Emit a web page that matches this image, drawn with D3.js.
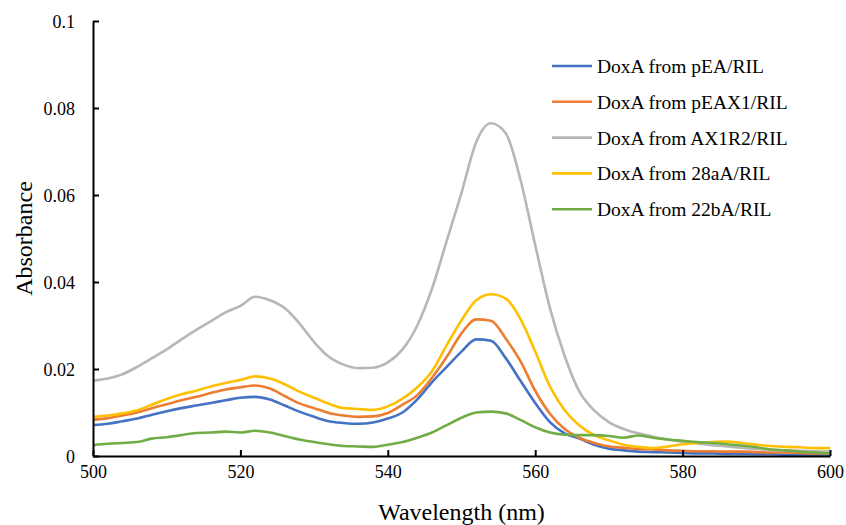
<!DOCTYPE html>
<html>
<head>
<meta charset="utf-8">
<script src="https://cdnjs.cloudflare.com/ajax/libs/d3/7.8.5/d3.min.js"></script>
<style>
    body { margin: 0; background: #fff; }
    svg { display: block; font-family: "Liberation Serif", "Times New Roman", serif; }
    .axis path, .axis line { stroke: #000; stroke-width: 2; }
    .axis text { font-size: 18px; fill: #000; font-family: "Liberation Serif", "Times New Roman", serif; }
</style>
</head>
<body>
<svg id="chart" width="846" height="525"></svg>
<script>

var wavelengths = d3.range(500, 601, 2);

var seriesNames = [
    "DoxA from pEA/RIL",
    "DoxA from pEAX1/RIL",
    "DoxA from AX1R2/RIL",
    "DoxA from 28aA/RIL",
    "DoxA from 22bA/RIL"
];

var pEA = [0.0071, 0.0074, 0.0080, 0.0086, 0.0095, 0.0103, 0.0110, 0.0116, 0.0122, 0.0128,
    0.0134, 0.0136, 0.0130, 0.0116, 0.0102, 0.0090, 0.0080, 0.0076, 0.0074, 0.0077,
    0.0086, 0.0100, 0.0130, 0.0170, 0.0205, 0.0240, 0.0268, 0.0265, 0.0225, 0.0173,
    0.0122, 0.0078, 0.0052, 0.0040, 0.0026, 0.0017, 0.0013, 0.0010, 0.0009, 0.0008,
    0.0007, 0.0006, 0.0006, 0.0005, 0.0005, 0.0004, 0.0004, 0.0003, 0.0003, 0.0002, 0.0002];

var pEAX1 = [0.0083, 0.0087, 0.0093, 0.0100, 0.0110, 0.0119, 0.0128, 0.0136, 0.0145, 0.0153,
    0.0158, 0.0162, 0.0155, 0.0138, 0.0121, 0.0110, 0.0099, 0.0093, 0.0090, 0.0091,
    0.0099, 0.0118, 0.0140, 0.0180, 0.0228, 0.0282, 0.0314, 0.0311, 0.0270, 0.0218,
    0.0150, 0.0097, 0.0062, 0.0042, 0.0030, 0.0022, 0.0019, 0.0016, 0.0015, 0.0013,
    0.0012, 0.0011, 0.0011, 0.0010, 0.0010, 0.0009, 0.0008, 0.0008, 0.0007, 0.0006, 0.0006];

var AX1R2 = [0.0173, 0.0178, 0.0188, 0.0205, 0.0225, 0.0245, 0.0268, 0.0290, 0.0310, 0.0330,
    0.0345, 0.0366, 0.0358, 0.0340, 0.0305, 0.0262, 0.0228, 0.0210, 0.0202, 0.0203,
    0.0215, 0.0245, 0.0300, 0.0385, 0.0495, 0.0605, 0.0722, 0.0765, 0.0742, 0.0635,
    0.0485, 0.0340, 0.0230, 0.0148, 0.0105, 0.0078, 0.0062, 0.0052, 0.0044, 0.0038,
    0.0033, 0.0029, 0.0025, 0.0022, 0.0019, 0.0016, 0.0014, 0.0013, 0.0012, 0.0011, 0.0010];

var aA28 = [0.0090, 0.0093, 0.0098, 0.0105, 0.0118, 0.0131, 0.0142, 0.0150, 0.0160, 0.0168,
    0.0175, 0.0183, 0.0178, 0.0165, 0.0148, 0.0134, 0.0120, 0.0110, 0.0108, 0.0106,
    0.0114, 0.0132, 0.0158, 0.0195, 0.0255, 0.0312, 0.0358, 0.0372, 0.0362, 0.0315,
    0.0240, 0.0160, 0.0105, 0.0070, 0.0048, 0.0036, 0.0026, 0.0021, 0.0018, 0.0022,
    0.0027, 0.0030, 0.0032, 0.0033, 0.0030, 0.0026, 0.0023, 0.0021, 0.0020, 0.0018, 0.0018];

var bA22 = [0.0025, 0.0028, 0.0030, 0.0032, 0.0040, 0.0043, 0.0048, 0.0053, 0.0054, 0.0056,
    0.0054, 0.0058, 0.0054, 0.0046, 0.0038, 0.0032, 0.0027, 0.0023, 0.0022, 0.0021,
    0.0026, 0.0032, 0.0042, 0.0054, 0.0071, 0.0088, 0.0100, 0.0102, 0.0098, 0.0083,
    0.0066, 0.0054, 0.0049, 0.0048, 0.0048, 0.0046, 0.0042, 0.0047, 0.0042, 0.0038,
    0.0035, 0.0032, 0.0030, 0.0027, 0.0024, 0.0020, 0.0015, 0.0013, 0.0010, 0.0008, 0.0006];

var seriesValues = [pEA, pEAX1, AX1R2, aA28, bA22];
var colors = ["#4472C4", "#ED7D31", "#B7B7B7", "#FFC000", "#70AD47"];

var xTicks = [500, 520, 540, 560, 580, 600];
var yTicks = [0, 0.02, 0.04, 0.06, 0.08, 0.1];

var svg = d3.select("#chart"),
    margin = {top: 21, right: 16, bottom: 69, left: 93},
    width = +svg.attr("width") - margin.left - margin.right,
    height = +svg.attr("height") - margin.top - margin.bottom;

var g = svg.append("g")
    .attr("transform", "translate(" + margin.left + "," + margin.top + ")");

var x = d3.scaleLinear().domain([500, 600]).range([0, width]);
var y = d3.scaleLinear().domain([0, 0.1]).range([height, 0]);

var line = d3.line()
    .curve(d3.curveMonotoneX)
    .x(function (d) { return x(d[0]); })
    .y(function (d) { return y(d[1]); });

// curves
seriesValues.forEach(function (vals, i) {
    var pts = wavelengths.map(function (w, j) { return [w, vals[j]]; });
    g.append("path")
        .datum(pts)
        .attr("fill", "none")
        .attr("stroke", colors[i])
        .attr("stroke-width", 2.6)
        .attr("stroke-linejoin", "round")
        .attr("d", line);
});

// axes, ticks pointing into the plot
g.append("g")
    .attr("class", "axis")
    .attr("transform", "translate(0," + height + ")")
    .call(d3.axisBottom(x).tickValues(xTicks).tickSizeInner(-6).tickSizeOuter(0).tickPadding(22))
    .call(function (a) { a.selectAll("text").attr("dy", "0"); });

g.append("g")
    .attr("class", "axis")
    .call(d3.axisLeft(y).tickValues(yTicks).tickSizeInner(-6).tickSizeOuter(0).tickPadding(18)
        .tickFormat(function (d) { return d3.format("")(+d.toFixed(2)); }))
    .call(function (a) { a.selectAll("text").attr("dy", "0.35em"); });

// axis titles
svg.append("text")
    .attr("x", margin.left + width / 2)
    .attr("y", 520)
    .attr("text-anchor", "middle")
    .style("font-size", "24px")
    .text("Wavelength (nm)");

svg.append("text")
    .attr("transform", "translate(32," + (margin.top + height / 2) + ") rotate(-90)")
    .attr("text-anchor", "middle")
    .style("font-size", "24px")
    .text("Absorbance");

// legend
var legend = svg.append("g").attr("transform", "translate(552,66)");
seriesNames.forEach(function (name, i) {
    var row = legend.append("g").attr("transform", "translate(0," + (i * 35.8) + ")");
    row.append("line")
        .attr("x1", 0).attr("x2", 40)
        .attr("stroke", colors[i])
        .attr("stroke-width", 2.6);
    row.append("text")
        .attr("x", 45)
        .attr("y", 7)
        .style("font-size", "19.5px")
        .text(name);
});

</script>
</body>
</html>
